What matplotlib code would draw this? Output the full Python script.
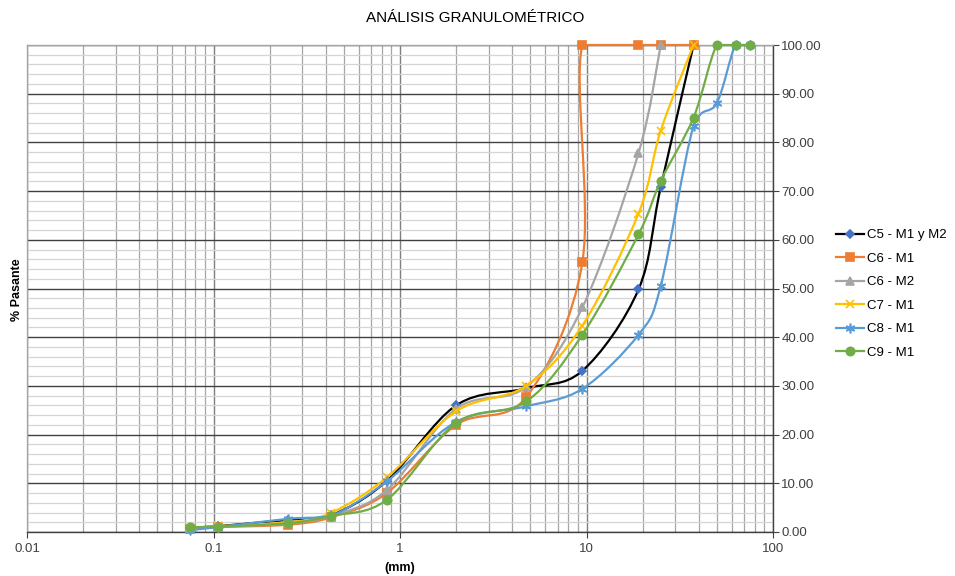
import numpy as np
import matplotlib
matplotlib.use("Agg")
import matplotlib.pyplot as plt
from matplotlib.path import Path
from matplotlib.patches import PathPatch
from matplotlib.lines import Line2D
from matplotlib.ticker import FixedLocator, NullFormatter, LogLocator

plt.rcParams['font.family'] = ['Liberation Sans', 'DejaVu Sans']

# ------------------------------------------------------------
# Data: sieve opening (mm) vs % passing
# ------------------------------------------------------------
sieves = [0.075, 0.106, 0.25, 0.425, 0.85, 2.0, 4.75, 9.5, 19.0, 25.0, 37.5, 50.0, 63.0, 75.0]

c5_x = sieves[:11]
c5_y = [0.9, 1.2, 2.5, 3.4, 10.5, 26.0, 29.5, 33.1, 49.8, 70.8, 100.0]

c6m1_x = [0.075, 0.106, 0.25, 0.425, 0.85, 2.0, 4.75, 9.5, 9.5, 19.0, 25.0, 37.5]
c6m1_y = [0.6, 1.0, 1.5, 3.0, 8.0, 22.0, 27.7, 55.4, 100.0, 100.0, 100.0, 100.0]

c6m2_x = sieves[:10]
c6m2_y = [0.7, 1.0, 1.8, 3.3, 8.6, 25.3, 29.8, 46.1, 77.8, 100.0]

c7_x = sieves[:11]
c7_y = [0.8, 1.2, 2.0, 3.9, 11.2, 24.8, 30.0, 42.4, 65.4, 82.4, 100.0]

c8_x = sieves
c8_y = [0.4, 1.0, 2.7, 3.3, 10.4, 22.6, 25.8, 29.4, 40.5, 50.5, 83.4, 88.1, 100.0, 100.0]

c9_x = sieves
c9_y = [1.0, 1.1, 1.8, 3.3, 6.6, 22.4, 26.8, 40.5, 61.1, 72.1, 85.1, 100.0, 100.0, 100.0]

labels = ["C5 - M1 y M2", "C6 - M1", "C6 - M2", "C7 - M1", "C8 - M1", "C9 - M1"]

xticks = [0.01, 0.1, 1, 10, 100]
xticklabels = ["0.01", "0.1", "1", "10", "100"]
yticks = list(range(0, 101, 10))

# (x, y, line colour, marker, marker colour, marker size)
series = [
    (c5_x, c5_y, "#000000", "D", "#4472C4", 4.5),
    (c6m1_x, c6m1_y, "#ED7D31", "s", "#ED7D31", 6),
    (c6m2_x, c6m2_y, "#A5A5A5", "^", "#A5A5A5", 6),
    (c7_x, c7_y, "#FFC000", "x", "#FFC000", 6),
    (c8_x, c8_y, "#5B9BD5", (6, 2, 0), "#5B9BD5", 7),
    (c9_x, c9_y, "#70AD47", "o", "#70AD47", 6),
]


def smooth_path(x, y):
    # Excel-like smoothed line: cubic Bezier segments (Catmull-Rom), log x
    pts = np.column_stack([np.log10(x), np.asarray(y, float)])
    n = len(pts)
    verts = [pts[0]]
    codes = [Path.MOVETO]
    for i in range(n - 1):
        p0 = pts[max(i - 1, 0)]
        p1 = pts[i]
        p2 = pts[i + 1]
        p3 = pts[min(i + 2, n - 1)]
        c1 = p1 + (p2 - p0) / 6.0
        c2 = p2 - (p3 - p1) / 6.0
        lo, hi = min(p1[1], p2[1]), max(p1[1], p2[1])
        c1[1] = np.clip(c1[1], lo, hi)
        c2[1] = np.clip(c2[1], lo, hi)
        verts += [c1, c2, p2]
        codes += [Path.CURVE4] * 3
    verts = np.array(verts)
    verts[:, 0] = 10 ** verts[:, 0]
    return Path(verts, codes)


fig = plt.figure(figsize=(9.55, 5.76), dpi=100)
ax = fig.add_axes([27 / 955, 1 - 532 / 576, (773 - 27) / 955, (532 - 45) / 576])

ax.set_xscale("log")
ax.set_xlim(0.01, 100)
ax.set_ylim(0, 100)

# grid
ax.xaxis.set_major_locator(FixedLocator(xticks))
ax.xaxis.set_minor_locator(LogLocator(base=10, subs=np.arange(2, 10)))
ax.xaxis.set_minor_formatter(NullFormatter())
ax.set_xticklabels(xticklabels)
ax.set_yticks(yticks)
ax.set_yticks(np.arange(0, 101, 2), minor=True)
ax.set_yticklabels([f"{v:.2f}" for v in yticks])
ax.yaxis.tick_right()

ax.grid(True, which="major", axis="x", color="#7F7F7F", linewidth=1.0)
ax.grid(True, which="minor", axis="x", color="#A6A6A6", linewidth=0.9)
ax.grid(True, which="major", axis="y", color="#404040", linewidth=1.0)
ax.grid(True, which="minor", axis="y", color="#D5D5D5", linewidth=0.9)
ax.set_axisbelow(True)

ax.tick_params(axis="x", which="major", direction="out", length=4, color="#404040",
               labelsize=9.5, labelcolor="#404040", pad=4)
ax.tick_params(axis="x", which="minor", length=0)
ax.tick_params(axis="y", which="major", direction="out", length=4, color="#404040",
               labelsize=9.5, labelcolor="#404040", pad=2)
ax.tick_params(axis="y", which="minor", length=0)

ax.spines["left"].set_color("#A6A6A6")
ax.spines["top"].set_color("#A6A6A6")
ax.spines["right"].set_color("#404040")
ax.spines["bottom"].set_color("#404040")
for s in ax.spines.values():
    s.set_linewidth(1.0)

handles = []
for k, (x, y, lc, mk, mc, ms) in enumerate(series):
    patch = PathPatch(smooth_path(x, y), facecolor="none", edgecolor=lc,
                      linewidth=1.6, zorder=3 + k, clip_on=False)
    ax.add_patch(patch)
    ax.plot(x, y, linestyle="none", marker=mk, markersize=ms, color=mc,
            markerfacecolor=mc, markeredgecolor=mc, markeredgewidth=1.2,
            zorder=3 + k + 0.5, clip_on=False)
    handles.append(Line2D([], [], color=lc, linewidth=1.6, marker=mk, markersize=ms,
                          markerfacecolor=mc, markeredgecolor=mc, markeredgewidth=1.2))

fig.legend(handles, labels, loc="center left", bbox_to_anchor=(836 / 955, 1 - 294 / 576),
           frameon=False, fontsize=9.5, handlelength=2.1, handletextpad=0.25,
           labelspacing=0.85, borderpad=0, borderaxespad=0, labelcolor="#000000")

fig.text(475 / 955, 1 - 18 / 576, "ANÁLISIS GRANULOMÉTRICO", ha="center", va="center",
         fontsize=11, color="#000000")
fig.text(17 / 955, 1 - 290 / 576, "% Pasante", ha="center", va="center", rotation=90,
         fontsize=9, fontweight="bold", color="#000000")
fig.text(400 / 955, 1 - 568 / 576, "(mm)", ha="center", va="center",
         fontsize=9, fontweight="bold", color="#000000")

fig.savefig("out.png", dpi=100)
